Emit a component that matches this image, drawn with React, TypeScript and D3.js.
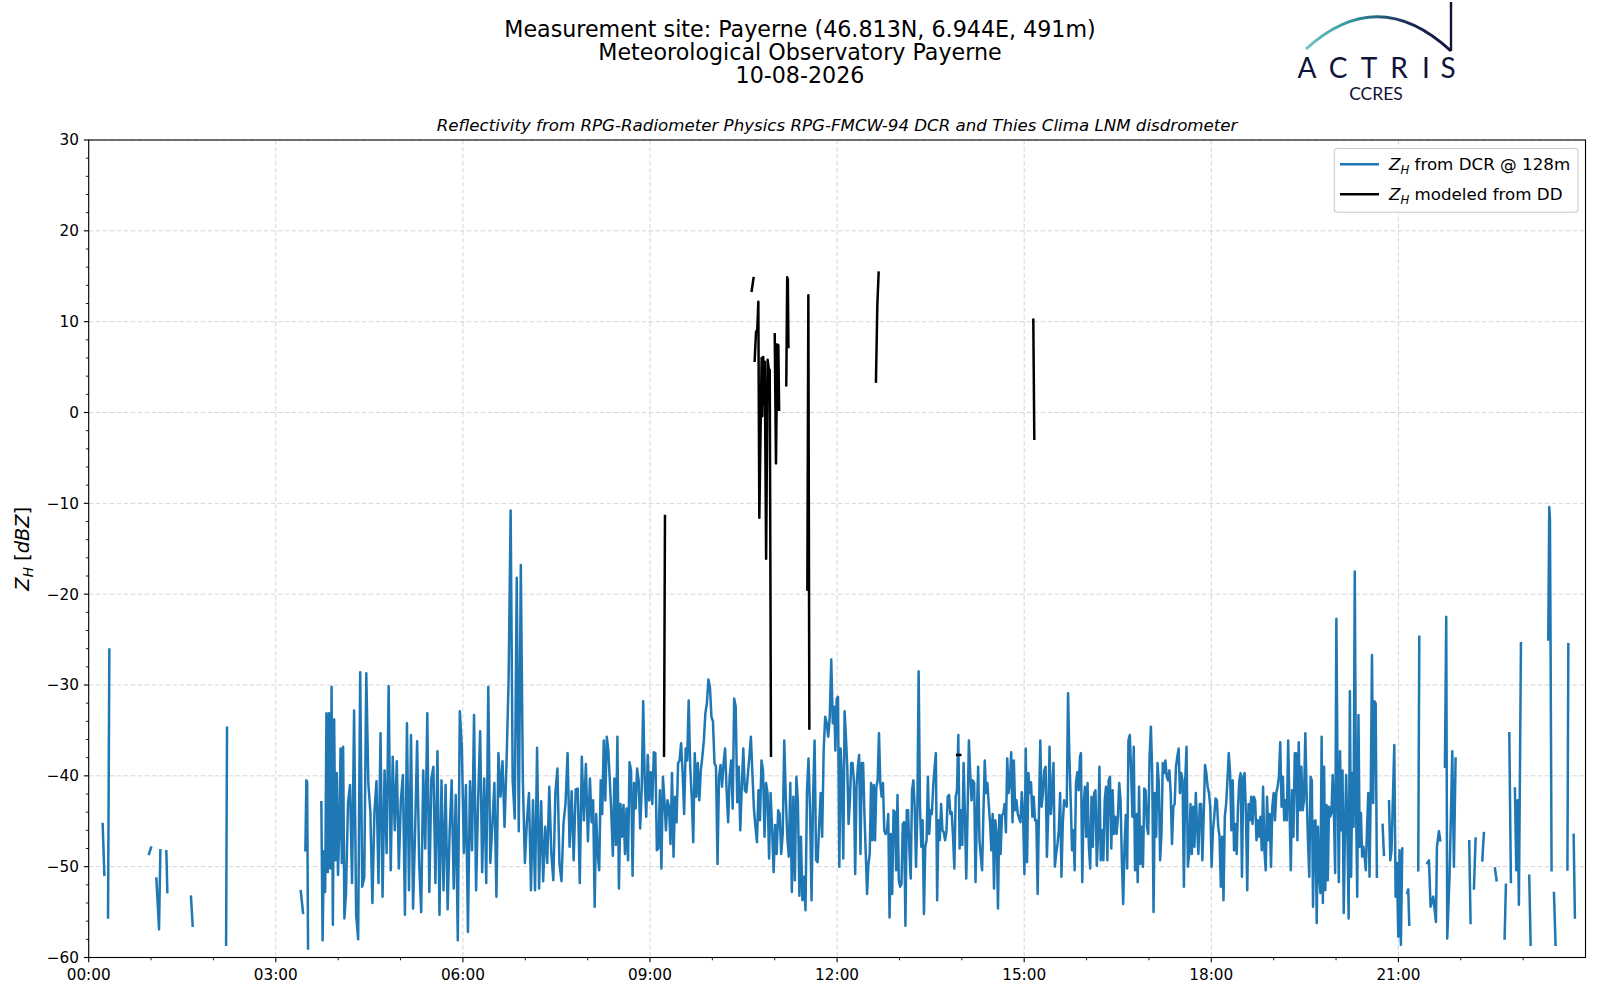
import React from "react";
import * as d3 from "d3";

// ---------- layout ----------
const W = 1600;
const H = 1000;
const PLOT = { left: 88.7, right: 1585.5, top: 140, bottom: 957.5 };
const FONT = "DejaVu Sans";

// ---------- text ----------
const TITLE_LINES = [
  "Measurement site: Payerne (46.813N, 6.944E, 491m)",
  "Meteorological Observatory Payerne",
  "10-08-2026",
];
const SUBTITLE =
  "Reflectivity from RPG-Radiometer Physics RPG-FMCW-94 DCR and Thies Clima LNM disdrometer";

// ---------- axes ----------
const X_DOMAIN = [0, 24];
const X_TICKS = [0, 3, 6, 9, 12, 15, 18, 21];
const X_TICK_LABELS = ["00:00", "03:00", "06:00", "09:00", "12:00", "15:00", "18:00", "21:00"];
const X_MINOR_TICKS = [1, 2, 4, 5, 7, 8, 10, 11, 13, 14, 16, 17, 19, 20, 22, 23];
const Y_DOMAIN = [-60, 30];
const Y_TICKS = [-60, -50, -40, -30, -20, -10, 0, 10, 20, 30];
const Y_MINOR_STEP = 2;

// ---------- DCR reflectivity (dBZ), dense part, evenly spaced between start/end hour ----------
const dcrChunkA = [-42.9, -58.1, -48.3, -52.8, -33.1, -50.6, -33.1, -50.2, -30.2, -56.4, -33.8, -49.3, -39.7, -50.9, -45.8, -37.0, -49.6, -36.8, -55.7];
const dcrChunkB = [-53, -43, -41, -51.8, -32.8, -55.3, -58, -28.6, -52.2, -51.2, -28.7, -40.8, -44, -54, -44, -40.6, -51.8, -35.3, -53.3, -39.4, -48.5, -30.1, -50.4, -37.9, -46, -38.4, -50.2, -42.7, -39.9, -55.3, -34.2, -52.6, -35.5, -54.6, -46.1, -36.2, -49.6, -55, -39.4, -48, -33.1, -52.8, -40.3, -39, -51.8, -37.3, -55.3, -40.5, -52.6, -41, -54.7, -46.1, -40.5, -52.4, -42.1, -58.1, -32.9, -36.8, -48.5, -41, -57.2, -40.6, -48.2, -33.3, -52.6, -42.7, -35.1, -50.6, -40.3, -51.8, -30.2, -49.6, -45.4, -40.8, -53.3, -37.5, -42.3, -38.4, -45.6, -38.3, -29.4, -10.8, -40.5, -44.7, -18.2, -46.1, -16.8, -40.5, -49.6, -45, -41.9, -52.6, -42.7, -52.6, -36.9, -52.4, -42.8, -51.6, -45.6, -49.6, -41.2, -48.5, -51.5, -41.9, -39.2, -49.6, -51.6, -45.2, -43, -37.5, -47.8, -41.7, -49.3, -41.5, -41.4, -51.8, -37.9, -44.9, -38.7, -47.2, -40.3];
const dcrChunkC = [-45.1, -42.7, -54.4, -44.2, -48.6, -50.4, -40.5, -44.2, -36.1, -42.7, -35.7, -37.2, -40.5, -44.2, -48.8, -40.3, -47.6, -35.7, -52.4, -43.1, -46.7, -43.2, -48.6, -43.6, -49.3, -38.5, -39.4, -51.0, -40.8, -43.6, -39.2, -40.5, -45.8, -41.6, -31.8, -40.5, -44.5, -37.7, -42.7, -39.6, -43.1, -37.4, -37.5, -48.2, -48.0, -41.6, -50.2, -40.1, -42.7, -46.0, -42.7, -43.4, -47.5, -39.7, -48.9, -42.3, -45.1, -38.6, -38.3, -36.4, -39.7, -44.2, -37.0, -38.3, -31.7, -39.0, -42.3, -47.3, -37.5, -42.3, -38.6, -42.7, -39.4, -37.9, -36.1, -33.1, -32.0, -29.4, -30.2, -33.5, -34.0, -38.6, -39.0, -49.7, -40.1, -38.8, -41.2, -38.6, -37.0, -41.6, -45.1, -40.1, -38.3, -43.6, -31.5, -32.4, -42.9, -39.0, -46.0, -41.2, -37.0, -41.6, -41.8, -39.9, -37.9, -35.7, -39.7, -43.6, -45.6, -47.3, -41.6, -44.9, -38.3, -39.4, -46.7, -40.8, -41.9, -49.1, -41.9, -45.8, -50.6, -45.4, -48.6, -43.8, -44.2, -48.6, -46.4, -36.1, -42.3, -46.7, -48.9, -40.8, -52.8, -42.3, -51.5, -40.1, -42.9, -53.2, -46.7, -53.7, -51.1, -54.8, -41.6, -38.1, -43.6, -53.7, -42.5, -36.1, -49.3, -49.5, -45.6, -41.9, -46.7, -37.2, -33.5, -34.2, -35.7, -33.5, -27.2, -34.2, -32.4];
const dcrChunkD = [-37.2, -31.5, -31.3, -50.0, -37.0, -40.5, -49.1, -32.9, -35.7, -39.0, -45.3, -42.7, -38.6, -38.6, -40.5, -50.8, -41.2, -39.0, -37.7, -48.6, -38.6, -38.6, -44.2, -48.6, -53.0, -49.7, -48.6, -40.8, -47.1, -41.0, -47.1, -41.2, -40.5, -35.3, -40.8, -42.3, -40.8, -46.0, -46.4, -46.2, -44.2, -55.6, -46.4, -53.0, -43.8, -44.0, -50.4, -42.1, -51.5, -52.2, -51.9, -45.3, -45.1, -56.5, -43.8, -43.8, -48.2, -51.3, -41.6, -40.5, -43.4, -50.0, -44.2, -28.5, -43.4, -47.8, -44.9, -55.2, -47.8, -47.1, -40.1, -46.4, -43.8, -44.2, -41.2, -39.2, -37.5, -53.7, -44.9, -47.1, -43.1, -46.0, -46.2, -47.1, -46.2, -42.3, -42.1, -44.2, -44.0, -46.7, -50.2, -42.3, -41.6, -35.5, -48.0, -43.8, -47.6, -38.6, -44.2, -51.3, -44.2, -36.1, -39.7, -42.7, -40.5, -40.8, -51.7, -44.5, -39.0, -47.1, -48.9, -50.4, -44.0, -38.3, -41.9, -40.8, -43.1, -45.1, -48.2, -44.2, -52.4, -44.9, -46.4, -54.6, -44.3, -48.6, -44.3, -44.2, -43.1, -46.2, -38.1, -41.9, -40.8, -37.4, -45.1, -38.3, -43.8, -42.7, -44.2, -44.7, -45.1, -41.8, -44.2, -50.8, -37.0, -49.5, -39.7, -41.9, -40.7, -44.5, -42.3, -44.9, -44.9, -53.0, -43.8, -36.1, -43.4, -41.9, -39.4, -39.0, -48.9, -44.2, -36.8, -44.2, -41.9, -38.6, -50.0, -48.6, -47.5, -46.0, -41.9, -51.1, -45.3, -42.7, -43.1, -43.4, -30.9, -37.9, -42.7, -48.2, -46.0, -50.4, -40.8, -39.6, -41.6, -37.9];
const dcrChunkE = [-37.5, -51.7, -43.4, -41.2, -46.7, -40.8, -47.8, -50.2, -42.3, -47.8, -41.9, -41.6, -49.9, -46.4, -39.0, -49.3, -46.0, -49.3, -42.7, -41.2, -49.3, -40.5, -40.1, -48.0, -41.6, -46.4, -44.5, -46.4, -44.5, -40.8, -42.7, -49.3, -54.1, -47.8, -44.3, -50.2, -36.1, -35.5, -39.4, -44.5, -36.8, -50.4, -44.2, -51.7, -41.2, -49.7, -45.6, -50.0, -41.4, -41.6, -45.6, -46.4, -37.9, -34.6, -39.7, -55.0, -41.9, -46.7, -38.6, -40.8, -49.3, -46.4, -38.6, -39.7, -38.3, -40.1, -40.5, -39.4, -41.9, -47.5, -43.4, -43.1, -39.0, -37.9, -37.0, -41.9, -39.7, -40.5, -52.2, -40.5, -36.8, -50.0, -48.6, -43.1, -48.6, -43.4, -47.8, -41.9, -45.6, -48.6, -43.1, -43.1, -49.3, -44.5, -38.8, -39.7, -41.2, -41.9, -43.4, -50.0, -46.0, -44.5, -42.5, -42.7, -45.6, -46.7, -52.2, -46.7, -53.7, -44.5, -43.1, -40.5, -37.5, -39.7, -46.0, -40.5, -48.2, -45.3, -48.6, -43.4, -40.5, -39.7, -51.1, -40.1, -39.7, -44.2, -52.6, -43.1, -44.9, -42.3, -45.3, -42.3, -42.7, -47.1, -44.9, -46.7, -44.5, -48.2, -41.2, -48.2, -50.4, -42.3, -47.1, -44.2, -50.0, -43.4, -41.9, -44.9, -41.9, -41.2, -40.1, -36.3, -43.4, -40.1, -44.9, -42.7, -44.9, -36.1, -43.4, -50.4, -41.6, -46.7, -37.5, -37.5, -47.1, -36.3, -43.8, -39.0, -43.8, -42.7, -35.3, -41.9, -47.1, -51.1];
const dcrChunkF = [-40.1, -40.5, -54.4, -45.0, -44.9, -56.2, -45.6, -50.7, -52.9, -35.7, -54.0, -39.0, -52.6, -43.2, -51.5, -43.4, -44.5, -44.1, -39.9, -44.1, -50.7, -22.7, -40.5, -51.7, -37.3, -46.0, -39.4, -55.1, -46.0, -39.9, -46.3, -55.7, -30.7, -51.1, -39.7, -45.6, -17.5, -43.0, -53.3, -33.3, -47.8, -44.1, -48.9, -47.8, -48.9, -50.4, -45.6, -41.9, -51.1, -41.9, -26.7, -43.0, -31.8, -32.0, -51.1];

// [start hour, end hour] for each dense chunk
const dcrChunkSpans: [number, number][] = [
  [3.73, 4.1],
  [4.125, 8.037],
  [8.064, 11.955],
  [11.972, 15.894],
  [15.91, 19.571],
  [19.592, 20.655],
];
const dcrChunks = [dcrChunkA, dcrChunkB, dcrChunkC, dcrChunkD, dcrChunkE, dcrChunkF];

// ---------- DCR sparse pieces: [hour, dBZ] ----------
const dcrSparse: [number, number][][] = [
  [[0.224, -45.3], [0.251, -50.9]],
  [[0.31, -55.6], [0.331, -26.1]],
  [[0.967, -48.6], [1.0, -47.9]],
  [[1.085, -51.3], [1.128, -56.9], [1.149, -48.2]],
  [[1.245, -48.3], [1.261, -52.8]],
  [[1.64, -53.3], [1.667, -56.5]],
  [[2.203, -58.6], [2.218, -34.7]],
  [[3.4, -52.7], [3.437, -55.1]],
  [[3.474, -48.2], [3.49, -40.5], [3.503, -40.7], [3.517, -59.0]],
  [[20.747, -45.4], [20.768, -48.7]],
  [[20.85, -42.8], [20.87, -49.3], [20.89, -48.2], [20.934, -36.6], [20.955, -53.3], [20.976, -49.6], [20.998, -57.7], [21.019, -48.2], [21.04, -58.6], [21.062, -48.0]],
  [[21.142, -52.9], [21.158, -52.5], [21.174, -56.4]],
  [[21.318, -50.4], [21.335, -24.7]],
  [[21.463, -49.6], [21.49, -49.3], [21.516, -54.4], [21.559, -53.3], [21.602, -56.1], [21.618, -47.8], [21.65, -46.1], [21.671, -47.1]],
  [[21.746, -39.0], [21.767, -22.5], [21.783, -57.9], [21.821, -50.9], [21.864, -37.3], [21.89, -50.0], [21.917, -38.1]],
  [[22.136, -47.2], [22.157, -56.2]],
  [[22.211, -52.4], [22.238, -46.9]],
  [[22.345, -49.3], [22.371, -46.3]],
  [[22.548, -50.2], [22.574, -51.5]],
  [[22.703, -57.9], [22.724, -52.0]],
  [[22.778, -35.3], [22.804, -51.7]],
  [[22.868, -41.4], [22.89, -50.4], [22.911, -42.7], [22.932, -54.2], [22.965, -25.4]],
  [[23.098, -51.0], [23.12, -58.6]],
  [[23.403, -25.0], [23.419, -10.4], [23.43, -11.8], [23.44, -25.4], [23.456, -50.4]],
  [[23.494, -52.9], [23.52, -58.6]],
  [[23.71, -50.3], [23.725, -25.5]],
  [[23.81, -46.5], [23.83, -55.6]],
];

// ---------- Disdrometer modeled reflectivity: [hour, dBZ] ----------
const ddPieces: [number, number][][] = [
  [[9.225, -37.8], [9.24, -11.4]],
  [[10.63, 13.4], [10.66, 14.8]],
  [[10.678, 5.7], [10.7, 8.9], [10.72, 9.1], [10.737, 12.2], [10.753, -11.6], [10.79, 6.0], [10.8, -0.4], [10.815, 6.1], [10.826, 1.0], [10.84, 5.6], [10.862, -16.1], [10.886, 5.8], [10.905, 4.8], [10.92, 4.7], [10.94, -37.8]],
  [[11.0, 8.6], [11.02, -5.6], [11.04, 7.5], [11.058, 7.4], [11.07, 0.3]],
  [[11.185, 3.0], [11.2, 14.9], [11.21, 14.6], [11.22, 7.2]],
  [[11.523, -19.5], [11.539, 12.9], [11.555, -34.8]],
  [[12.623, 3.4], [12.645, 11.8], [12.666, 15.4]],
  [[13.925, -37.7], [13.975, -37.7]],
  [[15.146, 10.2], [15.162, -2.9]],
];

const BLUE = "#1f77b4";
const NAVY = "#10133a";
const LW = 2.5;

export default function App() {
  const x = d3.scaleLinear().domain(X_DOMAIN).range([PLOT.left, PLOT.right]);
  const y = d3.scaleLinear().domain(Y_DOMAIN).range([PLOT.bottom, PLOT.top]);
  const line = d3
    .line<[number, number]>()
    .x((d) => x(d[0]))
    .y((d) => y(d[1]));

  const densePts: [number, number][] = dcrChunks.flatMap((vals, k) => {
    const [t0, t1] = dcrChunkSpans[k];
    return vals.map((v, i) => [t0 + ((t1 - t0) * i) / (vals.length - 1), v] as [number, number]);
  });

  const yMinor = d3.range(Y_DOMAIN[0], Y_DOMAIN[1] + 0.001, Y_MINOR_STEP).filter((v) => !Y_TICKS.includes(v));
  const majorLen = 4.86;
  const minorLen = 2.78;
  const tickFont = 15.28;

  const legendX = 1334.3;
  const legendY = 148.5;

  const logoLetters: [string, number][] = [
    ["A", 1307],
    ["C", 1338],
    ["T", 1369],
    ["R", 1399],
    ["I", 1426],
    ["S", 1448],
  ];

  return (
    <div style={{ position: "absolute", left: 0, top: 0 }}>
      <svg width={W} height={H} viewBox={`0 0 ${W} ${H}`} style={{ display: "block", background: "#fff" }} fontFamily={FONT}>
        <defs>
          <clipPath id="plotclip">
            <rect x={PLOT.left} y={PLOT.top} width={PLOT.right - PLOT.left} height={PLOT.bottom - PLOT.top} />
          </clipPath>
          <linearGradient id="arcgrad" x1="0" x2="1" y1="0" y2="0">
            <stop offset="0%" stopColor="#6cc8c2" />
            <stop offset="35%" stopColor="#2f8c9a" />
            <stop offset="70%" stopColor="#1a2a55" />
            <stop offset="100%" stopColor={NAVY} />
          </linearGradient>
        </defs>

        {/* titles */}
        {TITLE_LINES.map((t, i) => (
          <text key={i} x={800} y={36.6 + i * 23} textAnchor="middle" fontSize={22.2} fill="#000">
            {t}
          </text>
        ))}
        <text x={(PLOT.left + PLOT.right) / 2} y={130.5} textAnchor="middle" fontSize={16.67} fontStyle="italic" fill="#000">
          {SUBTITLE}
        </text>

        {/* logo */}
        <g>
          <path d="M1306,49 Q1378,-16.5 1451,51" fill="none" stroke="url(#arcgrad)" strokeWidth={3} />
          <line x1={1451} x2={1451} y1={2} y2={51} stroke={NAVY} strokeWidth={2.4} />
          {logoLetters.map(([c, px]) => (
            <text key={c} x={px} y={78} textAnchor="middle" fontSize={28} fontFamily="Lato" fill={NAVY}>
              {c}
            </text>
          ))}
          <text x={1376} y={100} textAnchor="middle" fontSize={17.5} fontFamily="Lato" fill={NAVY}>
            CCRES
          </text>
        </g>

        {/* grid */}
        <g stroke="#d0d0d0" strokeWidth={0.9} strokeDasharray="4.5,2.5">
          {X_TICKS.map((t) => (
            <line key={"gx" + t} x1={x(t)} x2={x(t)} y1={PLOT.top} y2={PLOT.bottom} />
          ))}
          {Y_TICKS.map((t) => (
            <line key={"gy" + t} x1={PLOT.left} x2={PLOT.right} y1={y(t)} y2={y(t)} />
          ))}
        </g>

        {/* data */}
        <g clipPath="url(#plotclip)" fill="none" strokeLinejoin="round" strokeLinecap="square">
          <path d={line(densePts) || ""} stroke={BLUE} strokeWidth={LW} />
          {dcrSparse.map((seg, i) => (
            <path key={"s" + i} d={line(seg) || ""} stroke={BLUE} strokeWidth={LW} />
          ))}
          {ddPieces.map((seg, i) => (
            <path key={"d" + i} d={line(seg) || ""} stroke="#000" strokeWidth={LW} />
          ))}
        </g>

        {/* spines */}
        <rect x={PLOT.left} y={PLOT.top} width={PLOT.right - PLOT.left} height={PLOT.bottom - PLOT.top} fill="none" stroke="#000" strokeWidth={1.1} />

        {/* ticks */}
        <g stroke="#000" strokeWidth={1.1}>
          {X_TICKS.map((t) => (
            <line key={"xt" + t} x1={x(t)} x2={x(t)} y1={PLOT.bottom} y2={PLOT.bottom + majorLen} />
          ))}
          {X_MINOR_TICKS.map((t) => (
            <line key={"xm" + t} x1={x(t)} x2={x(t)} y1={PLOT.bottom} y2={PLOT.bottom + minorLen} strokeWidth={0.9} />
          ))}
          {Y_TICKS.map((t) => (
            <line key={"yt" + t} x1={PLOT.left - majorLen} x2={PLOT.left} y1={y(t)} y2={y(t)} />
          ))}
          {yMinor.map((t) => (
            <line key={"ym" + t} x1={PLOT.left - minorLen} x2={PLOT.left} y1={y(t)} y2={y(t)} strokeWidth={0.9} />
          ))}
        </g>
        {X_TICKS.map((t, i) => (
          <text key={"xl" + t} x={x(t)} y={980} textAnchor="middle" fontSize={tickFont} fill="#000">
            {X_TICK_LABELS[i]}
          </text>
        ))}
        {Y_TICKS.map((t) => (
          <text key={"yl" + t} x={PLOT.left - majorLen - 4.86} y={y(t) + 5.4} textAnchor="end" fontSize={tickFont} fill="#000">
            {t < 0 ? "\u2212" + Math.abs(t) : String(t)}
          </text>
        ))}

        {/* y label */}
        <text transform={`translate(29,${(PLOT.top + PLOT.bottom) / 2}) rotate(-90)`} textAnchor="middle" fontSize={19.4} fill="#000">
          <tspan fontStyle="italic">Z</tspan>
          <tspan fontStyle="italic" fontSize={13.6} dy={4.3}>H</tspan>
          <tspan dy={-4.3}> [</tspan>
          <tspan fontStyle="italic">dBZ</tspan>
          <tspan>]</tspan>
        </text>

        {/* legend */}
        <g>
          <rect x={legendX} y={legendY} width={1578 - legendX} height={63.8} rx={3} fill="#fff" fillOpacity={0.8} stroke="#cccccc" strokeWidth={1.1} />
          <line x1={1340} x2={1379} y1={164.3} y2={164.3} stroke={BLUE} strokeWidth={LW} />
          <line x1={1340} x2={1379} y1={194.3} y2={194.3} stroke="#000" strokeWidth={LW} />
          <text x={1389} y={170} fontSize={16.7} fill="#000">
            <tspan fontStyle="italic">Z</tspan>
            <tspan fontStyle="italic" fontSize={11.7} dy={3.6}>H</tspan>
            <tspan dy={-3.6}> from DCR @ 128m</tspan>
          </text>
          <text x={1389} y={200} fontSize={16.7} fill="#000">
            <tspan fontStyle="italic">Z</tspan>
            <tspan fontStyle="italic" fontSize={11.7} dy={3.6}>H</tspan>
            <tspan dy={-3.6}> modeled from DD</tspan>
          </text>
        </g>
      </svg>
    </div>
  );
}
